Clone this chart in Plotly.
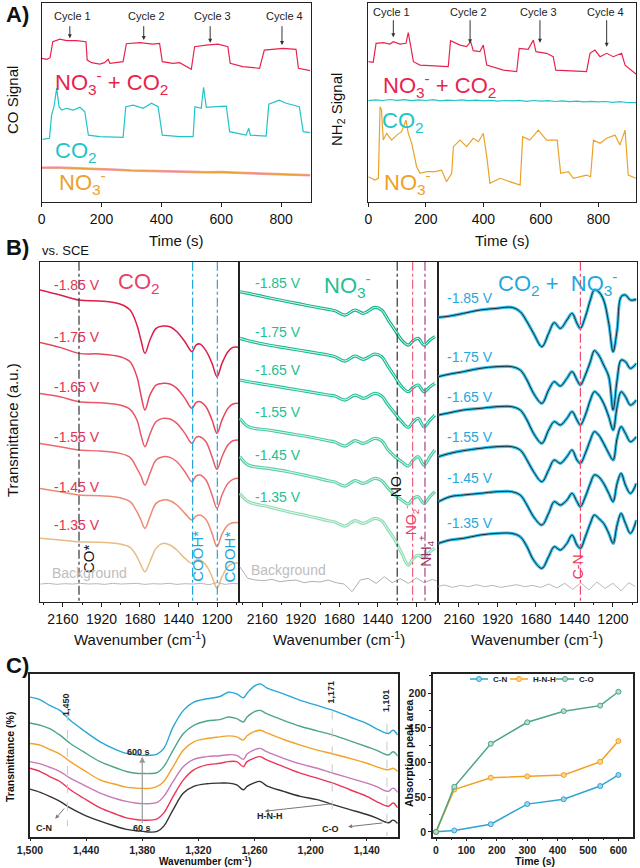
import plotly.graph_objects as go

FONT = "Liberation Sans, Arial, sans-serif"

# ---------------- Panel A data ----------------
a_left_red_t = [0, 17, 28, 37, 61, 83, 117, 148, 152, 167, 194, 210, 222, 228, 272, 283, 328, 372, 394, 403, 439, 461, 500, 511, 550, 589, 622, 630, 672, 728, 744, 806, 850, 858, 897]
a_left_red_v = [71.7, 71.2, 72, 80, 81.3, 80.5, 80.5, 80, 70.8, 69.5, 68.8, 69.5, 71.2, 69.2, 70, 79, 79.5, 78.8, 79.2, 70, 69.2, 69.5, 66.2, 77.5, 78.3, 78.8, 77.5, 69.2, 67.5, 66.7, 75.8, 76.7, 76.2, 66.7, 65.5]
a_left_cyan_t = [3, 26, 33, 41, 50, 58, 67, 83, 106, 128, 144, 156, 194, 272, 281, 306, 339, 367, 389, 403, 461, 506, 512, 533, 541, 550, 583, 617, 628, 683, 692, 697, 750, 759, 794, 817, 861, 874, 897]
a_left_cyan_v = [31.2, 31.7, 43.3, 47.5, 56.7, 47.5, 45.8, 46.7, 45.8, 47.2, 45, 33.3, 32.5, 32.2, 47.5, 48.3, 46.7, 49.2, 47.5, 33.3, 32.5, 32.5, 47.5, 46.7, 57.2, 47.2, 47.5, 47.8, 35, 33.3, 36.7, 33.3, 32.8, 48.8, 50.8, 49.2, 47.5, 35, 34.5]
a_left_orange_t = [0, 50, 100, 150, 200, 250, 300, 350, 400, 450, 500, 550, 600, 650, 700, 750, 800, 850, 897]
a_left_orange_v = [17, 17.1, 16.8, 16.6, 16.2, 16.0, 15.6, 15.5, 15.1, 15.0, 14.9, 14.7, 14.8, 14.5, 14.3, 14.1, 13.8, 13.5, 13.2]

a_right_red_t = [0, 17, 27, 52, 75, 87, 110, 131, 139, 147, 157, 180, 226, 278, 286, 319, 342, 356, 365, 388, 400, 412, 470, 516, 525, 556, 574, 583, 620, 643, 652, 713, 759, 771, 788, 806, 829, 852, 881, 893, 916, 931]
a_right_red_v = [70, 69.7, 79.2, 79.5, 78.8, 80, 78.8, 79.2, 84.5, 77.5, 70, 68.3, 67.8, 67.5, 80.5, 78.3, 77.5, 80, 75.5, 75, 78.3, 68.3, 65.8, 65, 76.7, 76.2, 80.8, 75, 74.2, 72.5, 65.8, 65.5, 65, 74.2, 75.8, 72.5, 74.2, 72.5, 74.2, 68.3, 65.8, 63.8]
a_right_cyan_t = [0, 25, 50, 75, 100, 125, 150, 175, 200, 225, 250, 275, 300, 325, 350, 375, 400, 425, 450, 475, 500, 525, 550, 575, 600, 625, 650, 675, 700, 725, 750, 775, 800, 825, 850, 875, 900, 931]
a_right_cyan_v = [50.5, 50.9, 50.6, 51.1, 50.7, 51.0, 50.5, 50.9, 50.6, 51.0, 50.4, 50.8, 50.6, 50.9, 50.5, 50.8, 50.4, 50.7, 50.3, 50.6, 50.4, 50.7, 50.2, 50.6, 50.3, 50.5, 50.1, 50.4, 50.0, 50.3, 49.9, 50.2, 49.9, 50.1, 49.7, 50.0, 49.6, 49.5]
a_right_orange_t = [0, 23, 35, 41, 46, 52, 64, 81, 99, 116, 131, 139, 151, 168, 180, 203, 232, 255, 272, 290, 296, 319, 342, 365, 383, 400, 412, 423, 458, 493, 528, 537, 562, 591, 620, 657, 669, 696, 713, 759, 773, 783, 806, 829, 858, 875, 893, 904, 931]
a_right_orange_v = [12.5, 10.8, 11.7, 47.5, 45.8, 30.8, 34.2, 30.8, 33.3, 35, 40.8, 34.2, 29.2, 17.5, 14.2, 15, 15, 15.8, 10, 14.2, 27.5, 30.8, 27.5, 31.7, 30, 34.2, 22.5, 9.2, 11.7, 10, 8.3, 32.5, 30.8, 35.8, 30.8, 30.8, 14.2, 15, 11.7, 13.3, 12.5, 30.8, 29.2, 31.7, 33.3, 28.3, 35.8, 13.3, 11.7]

cycle_labels = ["Cycle 1", "Cycle 2", "Cycle 3", "Cycle 4"]
a_left_cycle_t = [94, 341, 563, 803]
a_left_cycle_tip = [81.7, 80.8, 79.5, 78.3]
a_right_cycle_t = [87, 354, 597, 829]
a_right_cycle_tip = [82.2, 79.2, 79.5, 77.5]

# ---------------- Panel B data ----------------
voltages = ["-1.85 V", "-1.75 V", "-1.65 V", "-1.55 V", "-1.45 V", "-1.35 V"]

b_co2_wn = [2303, 2178, 2060, 1929, 1805, 1742, 1699, 1674, 1649, 1618, 1580, 1537, 1493, 1450, 1400, 1356, 1331, 1306, 1269, 1231, 1200, 1169, 1132, 1101, 1063]
b_co2_traces = [
    [180, 195, 210, 213, 222, 240, 285, 330, 370, 330, 295, 288, 290, 305, 335, 365, 345, 342, 362, 400, 440, 400, 365, 352, 352],
    [337, 352, 370, 372, 380, 395, 440, 495, 540, 495, 465, 460, 462, 475, 505, 535, 518, 515, 530, 570, 610, 570, 535, 522, 520],
    [490, 500, 515, 518, 525, 538, 570, 615, 650, 612, 575, 565, 567, 580, 610, 640, 622, 620, 635, 680, 718, 680, 645, 632, 630],
    [640, 650, 660, 663, 670, 682, 715, 738, 765, 730, 690, 680, 682, 695, 725, 755, 738, 735, 750, 795, 835, 795, 760, 748, 745],
    [775, 785, 795, 797, 803, 815, 845, 870, 895, 860, 820, 810, 812, 825, 850, 870, 858, 855, 868, 910, 950, 912, 885, 878, 878],
    [925, 930, 935, 937, 942, 952, 980, 1005, 1025, 995, 955, 940, 945, 960, 985, 1000, 990, 990, 1005, 1040, 1075, 1040, 1010, 1000, 1000],
]
b_co2_colors = ["#e01c48", "#e6455c", "#e85868", "#ea6a70", "#ee8a72", "#e9bb85"]
b_co2_label_y = [165, 320, 470, 620, 770, 885]

b_no3_wn = [2299, 2247, 2122, 1998, 1873, 1749, 1707, 1645, 1582, 1530, 1458, 1416, 1375, 1333, 1291, 1250, 1219, 1188, 1152, 1115, 1084]
b_no3_traces = [
    [185, 190, 203, 215, 227, 238, 242, 255, 240, 250, 232, 240, 270, 300, 330, 345, 332, 325, 345, 330, 320],
    [325, 332, 345, 355, 365, 375, 380, 393, 378, 388, 372, 380, 410, 440, 470, 485, 472, 465, 485, 470, 460],
    [450, 455, 465, 475, 485, 495, 498, 510, 495, 505, 490, 498, 525, 550, 575, 592, 575, 565, 590, 570, 555],
    [565, 590, 600, 610, 620, 632, 636, 648, 632, 640, 625, 632, 660, 680, 695, 708, 690, 680, 705, 680, 660],
    [680, 705, 715, 725, 738, 752, 756, 768, 752, 760, 745, 752, 775, 795, 810, 822, 805, 800, 820, 800, 785],
    [790, 815, 830, 845, 858, 872, 876, 888, 872, 880, 865, 872, 900, 930, 970, 1005, 985, 975, 985, 965, 955],
]
b_no3_colors = ["#14b48c", "#1cbc94", "#26c29c", "#48c8a4", "#5ccfa8", "#8fdcb4"]
b_no3_label_y = [158, 305, 420, 545, 675, 800]

b_mix_wn = [2289, 2216, 2133, 2028, 1924, 1830, 1778, 1736, 1695, 1643, 1601, 1566, 1528, 1487, 1455, 1424, 1403, 1372, 1341, 1316, 1289, 1258, 1226, 1199, 1174, 1149, 1122, 1091, 1053]
b_mix_traces = [
    [262, 258, 250, 240, 235, 232, 245, 275, 310, 350, 310, 278, 295, 270, 250, 280, 295, 260, 210, 180, 185, 210, 280, 365, 300, 200, 195, 210, 208],
    [440, 432, 425, 415, 410, 410, 420, 450, 490, 520, 480, 455, 468, 445, 425, 450, 465, 435, 395, 362, 375, 405, 440, 540, 450, 390, 395, 415, 400],
    [555, 548, 540, 535, 530, 530, 540, 570, 610, 640, 600, 575, 585, 565, 545, 570, 585, 555, 510, 485, 495, 520, 560, 600, 530, 485, 500, 525, 510],
    [680, 670, 662, 655, 650, 650, 660, 690, 725, 755, 720, 690, 700, 680, 660, 690, 700, 670, 630, 605, 615, 640, 670, 690, 625, 590, 610, 635, 620],
    [815, 800, 795, 790, 785, 785, 795, 825, 860, 885, 850, 815, 825, 810, 790, 815, 830, 800, 760, 735, 740, 760, 790, 815, 760, 730, 765, 790, 760],
    [940, 930, 925, 915, 910, 910, 920, 950, 990, 1015, 980, 950, 960, 940, 915, 945, 955, 920, 880, 855, 865, 880, 910, 940, 885, 850, 880, 910, 870],
]
b_mix_label_y = [205, 380, 500, 620, 745, 880]

bg_wn = [2300, 2250, 2200, 2150, 2100, 2050, 2000, 1950, 1900, 1850, 1800, 1750, 1700, 1650, 1600, 1550, 1500, 1450, 1400, 1350, 1300, 1250, 1200, 1150, 1100, 1060]
bg_co2 = [1062, 1060, 1063, 1061, 1062, 1060, 1062, 1061, 1063, 1060, 1062, 1061, 1060, 1063, 1061, 1062, 1060, 1063, 1061, 1062, 1060, 1064, 1058, 1063, 1060, 1062]
bg_no3 = [1010, 1045, 1050, 1052, 1048, 1055, 1052, 1050, 1058, 1054, 1056, 1050, 1058, 1062, 1085, 1050, 1045, 1060, 1040, 1058, 1046, 1060, 1044, 1058, 1048, 1055]
bg_mix = [1070, 1065, 1072, 1066, 1070, 1064, 1070, 1066, 1072, 1068, 1064, 1070, 1066, 1072, 1062, 1074, 1060, 1078, 1058, 1080, 1056, 1075, 1060, 1082, 1058, 1070]

# ---------------- Panel C data ----------------
c_wn = [1500, 1489, 1479, 1468, 1457, 1443, 1425, 1407, 1397, 1387, 1379, 1372, 1364, 1357, 1347, 1336, 1325, 1311, 1297, 1288, 1279, 1272, 1268, 1261, 1254, 1247, 1229, 1211, 1193, 1176, 1158, 1140, 1130, 1117, 1112, 1107]
c_traces = [
    [260, 268, 285, 300, 330, 360, 395, 420, 430, 434, 436, 436, 432, 415, 350, 300, 275, 265, 258, 245, 250, 262, 248, 228, 220, 232, 250, 270, 285, 300, 320, 340, 355, 370, 360, 375],
    [338, 345, 355, 375, 400, 425, 455, 475, 485, 490, 491, 491, 488, 470, 420, 370, 345, 332, 328, 320, 325, 335, 320, 305, 300, 310, 330, 348, 362, 375, 392, 410, 420, 435, 425, 438],
    [400, 405, 418, 432, 455, 480, 510, 525, 532, 535, 536, 536, 530, 515, 470, 420, 395, 385, 380, 377, 380, 390, 377, 365, 360, 368, 388, 405, 420, 432, 445, 460, 470, 480, 475, 485],
    [455, 462, 472, 485, 505, 525, 550, 568, 575, 580, 582, 582, 578, 560, 515, 470, 448, 440, 437, 434, 436, 448, 432, 420, 415, 425, 445, 462, 475, 490, 505, 520, 530, 545, 535, 548],
    [475, 485, 500, 515, 540, 565, 595, 615, 625, 630, 632, 632, 628, 610, 560, 510, 480, 465, 460, 455, 455, 470, 455, 445, 440, 450, 470, 490, 505, 520, 540, 560, 575, 590, 580, 595],
    [538, 548, 560, 575, 595, 615, 635, 652, 660, 664, 666, 668, 666, 650, 600, 550, 530, 522, 520, 520, 525, 540, 530, 520, 515, 528, 545, 560, 570, 585, 600, 615, 625, 640, 632, 642],
]
c_colors = ["#29a6d6", "#4ea58a", "#f2a227", "#c978b8", "#ee3358", "#333333"]

time_s = [0, 60, 180, 300, 420, 540, 600]
c_n_area = [0, 2, 11, 40, 47, 66, 82]
hnh_area = [0, 61, 78, 80, 82, 101, 131]
c_o_area = [0, 65, 127, 158, 174, 182, 202]
series_names = ["C-N", "H-N-H", "C-O"]
series_colors = ["#2ea3d4", "#f0a225", "#4fa486"]
marker_fill = ["#9fd6ee", "#fbd48d", "#b8ddd0"]

fig = go.Figure()

def add(x, y, ax, color, width=1.3, name=None, mode="lines", **kw):
    fig.add_trace(go.Scatter(x=x, y=y, xaxis="x" + ax, yaxis="y" + ax, mode=mode,
                             line=dict(color=color, width=width), name=name,
                             showlegend=False, hoverinfo="skip", **kw))

# A left
add(a_left_red_t, a_left_red_v, "", "#e8244c", 1.2)
add(a_left_cyan_t, a_left_cyan_v, "", "#22c4c8", 1.2)
add(a_left_orange_t, a_left_orange_v, "", "#f2a0b4", 2.6)
add(a_left_orange_t, a_left_orange_v, "", "#eba22a", 1.2)
# A right
add(a_right_red_t, a_right_red_v, "2", "#e8244c", 1.2)
add(a_right_cyan_t, a_right_cyan_v, "2", "#22c4c8", 1.2)
add(a_right_orange_t, a_right_orange_v, "2", "#eba22a", 1.2)

# B left
for tr, col in zip(b_co2_traces, b_co2_colors):
    add(b_co2_wn, tr, "3", col, 1.5, line_shape="spline")
add(bg_wn, bg_co2, "3", "#b8b8bc", 1.0)
# B mid
for tr, col in zip(b_no3_traces, b_no3_colors):
    add(b_no3_wn, tr, "4", col, 3.2, line_shape="spline")
    add(b_no3_wn, tr, "4", "#e4f8ef", 1.0, line_shape="spline")
add(bg_wn, bg_no3, "4", "#b0b0b4", 1.0)
# B right
for tr in b_mix_traces:
    add(b_mix_wn, tr, "5", "#3cc4ea", 3.2, line_shape="spline")
    add(b_mix_wn, tr, "5", "#1b2735", 1.0, line_shape="spline")
add(bg_wn, bg_mix, "5", "#b8b8bc", 1.0)

# C left
for tr, col in zip(c_traces, c_colors):
    add(c_wn, tr, "6", col, 1.4, line_shape="spline")
# C right
for name, vals, col, mcol in zip(series_names, [c_n_area, hnh_area, c_o_area], series_colors, marker_fill):
    add(time_s, vals, "7", col, 1.5, name=name, mode="lines+markers",
        marker=dict(size=5, color=mcol, line=dict(color=col, width=1)))

ax_common = dict(showline=True, linecolor="#222", linewidth=1, mirror=True, showgrid=False,
                 zeroline=False, ticks="outside", ticklen=4, tickcolor="#222", tickangle=0, automargin=False)
tickf = dict(family=FONT, size=14, color="#111")

def dom(x0, x1):
    return [x0 / 640, x1 / 640]

def ydom(top, bottom):
    return [1 - bottom / 868, 1 - top / 868]

b_ticks = [2160, 1920, 1680, 1440, 1200]
b_minor = [2280, 2040, 1800, 1560, 1320, 1080]
bold10 = dict(family=FONT, size=10.5, color="#222", weight="bold")
lay = dict(
    width=640, height=868, autosize=False, margin=dict(l=0, r=0, t=0, b=0, autoexpand=False),
    paper_bgcolor="white", plot_bgcolor="white", font=dict(family=FONT, color="#111"), showlegend=False,
    xaxis=dict(ax_common, domain=dom(41.7, 311), range=[0, 900], tickvals=[0, 200, 400, 600, 800], tickfont=tickf, anchor="y"),
    yaxis=dict(ax_common, domain=ydom(2.7, 201.7), range=[0, 99.5], showticklabels=False, ticks="", anchor="x"),
    xaxis2=dict(ax_common, domain=dom(368.3, 636), range=[0, 931], tickvals=[0, 200, 400, 600, 800], tickfont=tickf, anchor="y2"),
    yaxis2=dict(ax_common, domain=ydom(2.7, 201.7), range=[0, 99.5], showticklabels=False, ticks="", anchor="x2"),
    xaxis3=dict(ax_common, domain=dom(40, 239), range=[2303, 1063], tickvals=b_ticks, tickfont=tickf, anchor="y3",
                minor=dict(tickvals=b_minor, ticks="outside", ticklen=2, tickcolor="#222")),
    yaxis3=dict(ax_common, domain=ydom(261.7, 601.7), range=[1115, 95], showticklabels=False, ticks="", anchor="x3"),
    xaxis4=dict(ax_common, domain=dom(239.3, 438.3), range=[2303, 1063], tickvals=b_ticks, tickfont=tickf, anchor="y4",
                minor=dict(tickvals=b_minor, ticks="outside", ticklen=2, tickcolor="#222")),
    yaxis4=dict(ax_common, domain=ydom(261.7, 601.7), range=[1115, 95], showticklabels=False, ticks="", anchor="x4"),
    xaxis5=dict(ax_common, domain=dom(438.3, 636.5), range=[2289, 1053], tickvals=b_ticks, tickfont=tickf, anchor="y5",
                minor=dict(tickvals=b_minor, ticks="outside", ticklen=2, tickcolor="#222")),
    yaxis5=dict(ax_common, domain=ydom(261.7, 601.7), range=[1115, 95], showticklabels=False, ticks="", anchor="x5"),
    xaxis6=dict(ax_common, domain=dom(30, 397.7), range=[1500, 1107], tickvals=[1500, 1440, 1380, 1320, 1260, 1200, 1140],
                ticktext=["1,500", "1,440", "1,380", "1,320", "1,260", "1,200", "1,140"],
                tickfont=bold10, anchor="y6", linewidth=1.5, ticklen=3),
    yaxis6=dict(ax_common, domain=ydom(674, 836.7), range=[682, 190], showticklabels=False, ticks="", anchor="x6", linewidth=1.5),
    xaxis7=dict(ax_common, domain=dom(433, 633), range=[-10, 648], tickvals=[0, 100, 200, 300, 400, 500, 600],
                tickfont=bold10, anchor="y7", linewidth=1.5, ticklen=3,
                minor=dict(tickvals=[50, 150, 250, 350, 450, 550], ticks="outside", ticklen=2, tickcolor="#222")),
    yaxis7=dict(ax_common, domain=ydom(674, 836.7), range=[-7, 227.6], tickvals=[0, 50, 100, 150, 200],
                tickfont=bold10, anchor="x7", linewidth=1.5, ticklen=3,
                minor=dict(tickvals=[25, 75, 125, 175, 225], ticks="outside", ticklen=2, tickcolor="#222")),
)
fig.update_layout(**lay)

ann = []
shapes = []

def txt(x, y, text, size=14, color="#111", xref="paper", yref="paper", xa="center", ya="middle", angle=0, bold=False):
    ann.append(dict(x=x, y=y, text=text, xref=xref, yref=yref, xanchor=xa, yanchor=ya, showarrow=False,
                    textangle=angle, font=dict(family=FONT, size=size, color=color, weight="bold" if bold else "normal")))

def px(xp, yp):
    return xp / 640, 1 - yp / 868

# Panel labels
txt(*px(4, 15), "A)", 22, "#111", xa="left", bold=True)
txt(*px(4, 247), "B)", 22, "#111", xa="left", bold=True)
txt(*px(40, 250), "vs. SCE", 13, "#111", xa="left")
txt(*px(4, 665), "C)", 22, "#111", xa="left", bold=True)

# Axis titles
txt(*px(12, 100), "CO Signal", 15, angle=-90)
txt(*px(338, 110), "NH<sub>2</sub> Signal", 15, angle=-90)
txt(*px(176, 240), "Time (s)", 15)
txt(*px(502, 240), "Time (s)", 15)
txt(*px(12, 430), "Transmittance (a.u.)", 15, angle=-90)
for cx in [140, 339, 537]:
    txt(*px(cx, 638), "Wavenumber (cm<sup>-1</sup>)", 15)
txt(*px(205, 861), "Wavenumber (cm<sup>-1</sup>)", 10, bold=True)
txt(*px(10, 757), "Transmittance (%)", 10.5, angle=-90, bold=True)
txt(*px(535, 861), "Time (s)", 10.5, bold=True)
txt(*px(409, 753), "Absorption peak area", 10.5, angle=-90, bold=True)

# Panel A labels
txt(39, 59.5, "NO<sub>3</sub><sup>-</sup> + CO<sub>2</sub>", 22, "#e8244c", "x", "y", xa="left")
txt(39, 25, "CO<sub>2</sub>", 22, "#1fc4c6", "x", "y", xa="left")
txt(50, 9.5, "NO<sub>3</sub><sup>-</sup>", 22, "#eba22a", "x", "y", xa="left")
txt(44, 58.3, "NO<sub>3</sub><sup>-</sup> + CO<sub>2</sub>", 22, "#e8244c", "x2", "y2", xa="left")
txt(41, 40, "CO<sub>2</sub>", 22, "#1fc4c6", "x2", "y2", xa="left")
txt(46, 9.5, "NO<sub>3</sub><sup>-</sup>", 22, "#eba22a", "x2", "y2", xa="left")

for lab, t, tip in zip(cycle_labels, a_left_cycle_t, a_left_cycle_tip):
    txt(t + 8, 92.8, lab, 11, "#222", "x", "y")
    ann.append(dict(x=t, y=tip, ax=t, ay=88.5, xref="x", yref="y", axref="x", ayref="y", text="",
                    showarrow=True, arrowhead=2, arrowsize=0.8, arrowwidth=1, arrowcolor="#333"))
for lab, t, tip in zip(cycle_labels, a_right_cycle_t, a_right_cycle_tip):
    txt(t - 5, 95, lab, 11, "#222", "x2", "y2")
    ann.append(dict(x=t, y=tip, ax=t, ay=91.5, xref="x2", yref="y2", axref="x2", ayref="y2", text="",
                    showarrow=True, arrowhead=2, arrowsize=0.8, arrowwidth=1, arrowcolor="#333"))

# Panel B vertical lines
def vline(x, xr, yr, color, y0=95, y1=1115, dash="dashdot", width=1.2):
    shapes.append(dict(type="line", x0=x, x1=x, y0=y0, y1=y1, xref=xr, yref=yr,
                       line=dict(color=color, width=width, dash=dash)))

vline(2060, "x3", "y3", "#333")
vline(1352, "x3", "y3", "#21a6e0")
vline(1198, "x3", "y3", "#21a6e0")
vline(1319, "x4", "y4", "#333")
vline(1223, "x4", "y4", "#f0607e")
vline(1146, "x4", "y4", "#a8407c")
vline(1403, "x5", "y5", "#f04a6c")

# B labels
for v, yv in zip(voltages, b_co2_label_y):
    txt(2230, yv, v, 14, "#e8304e", "x3", "y3", xa="left")
txt(1830, 160, "CO<sub>2</sub>", 22, "#e8406a", "x3", "y3", xa="left")
txt(2000, 985, "CO*", 15, "#111", "x3", "y3", angle=-90)
txt(1318, 980, "COOH*", 15, "#1ea3dc", "x3", "y3", angle=-90)
txt(1120, 980, "COOH*", 15, "#1ea3dc", "x3", "y3", angle=-90)
txt(2240, 1030, "Background", 14, "#bdbdbd", "x3", "y3", xa="left")

for v, yv in zip(voltages, b_no3_label_y):
    txt(2215, yv, v, 14, "#22bf93", "x4", "y4", xa="left")
txt(1790, 165, "NO<sub>3</sub><sup>-</sup>", 22, "#22bf93", "x4", "y4", xa="left")
txt(1330, 770, "NO", 14, "#111", "x4", "y4", angle=-90)
txt(1236, 872, "NO<sub>2</sub><sup>-</sup>", 14, "#ee4066", "x4", "y4", angle=-90)
txt(1140, 962, "NH<sub>4</sub><sup>+</sup>", 14, "#9c2f64", "x4", "y4", angle=-90)
txt(2240, 1020, "Background", 14, "#bdbdbd", "x4", "y4", xa="left")

for v, yv in zip(voltages, b_mix_label_y):
    txt(2250, yv, v, 14, "#1fa8e0", "x5", "y5", xa="left")
txt(1930, 160, "CO<sub>2</sub> +  NO<sub>3</sub><sup>-</sup>", 22, "#1fa8e0", "x5", "y5", xa="left")
txt(1420, 1010, "C-N", 14, "#ee3a60", "x5", "y5", angle=-90)

# Panel C annotations
def cline(x, y0, y1):
    shapes.append(dict(type="line", x0=x, x1=x, y0=y0, y1=y1, xref="x6", yref="y6",
                       line=dict(color="#c8c8c8", width=1, dash="dash")))

cline(1460, 305, 650)
cline(1177, 300, 610)
cline(1118.5, 340, 680)
txt(1461, 282, "1,450", 9, "#222", "x6", "y6", angle=-90, bold=True)
txt(1178, 245, "1,171", 9, "#222", "x6", "y6", angle=-90, bold=True)
txt(1119.5, 272, "1,101", 9, "#222", "x6", "y6", angle=-90, bold=True)
ann.append(dict(x=1380, y=440, ax=1380, ay=645, xref="x6", yref="y6", axref="x6", ayref="y6", text="",
                showarrow=True, arrowhead=2, arrowsize=1, arrowwidth=1.2, arrowcolor="#999"))
txt(1384, 425, "600 s", 9, "#222", "x6", "y6", bold=True)
txt(1380, 657, "60 s", 9, "#222", "x6", "y6", bold=True)
ann.append(dict(x=1473, y=628, ax=1462, ay=592, xref="x6", yref="y6", axref="x6", ayref="y6", text="",
                showarrow=True, arrowhead=2, arrowsize=0.8, arrowwidth=1, arrowcolor="#777"))
txt(1485, 655, "C-N", 9, "#222", "x6", "y6", bold=True)
ann.append(dict(x=1249, y=605, ax=1176, ay=582, xref="x6", yref="y6", axref="x6", ayref="y6", text="",
                showarrow=True, arrowhead=2, arrowsize=0.8, arrowwidth=1, arrowcolor="#777"))
txt(1243, 620, "H-N-H", 9, "#222", "x6", "y6", bold=True)
ann.append(dict(x=1160, y=652, ax=1122, ay=640, xref="x6", yref="y6", axref="x6", ayref="y6", text="",
                showarrow=True, arrowhead=2, arrowsize=0.8, arrowwidth=1, arrowcolor="#777"))
txt(1179, 660, "C-O", 9, "#222", "x6", "y6", bold=True)

# manual compact legend for panel C right
leg_x = [470, 510, 556]
leg_y = 679
for name, col, mcol, lx in zip(series_names, series_colors, marker_fill, leg_x):
    x0, y0 = px(lx, leg_y)
    x1, _ = px(lx + 18, leg_y)
    shapes.append(dict(type="line", xref="paper", yref="paper", x0=x0, x1=x1, y0=y0, y1=y0,
                       line=dict(color=col, width=1.5)))
    cx, cy = px(lx + 9, leg_y)
    r = 2.5
    shapes.append(dict(type="circle", xref="paper", yref="paper", x0=cx - r / 640, x1=cx + r / 640,
                       y0=cy - r / 868, y1=cy + r / 868, fillcolor=mcol, line=dict(color=col, width=1)))
    txt(*px(lx + 21, leg_y), name, 8, "#222", xa="left", bold=True)

fig.update_layout(annotations=ann, shapes=shapes)
fig.write_html("out.html", config={"displayModeBar": False},
               post_script="document.body.style.margin='0';document.body.style.padding='0';"
                           "document.documentElement.style.overflow='hidden';")
